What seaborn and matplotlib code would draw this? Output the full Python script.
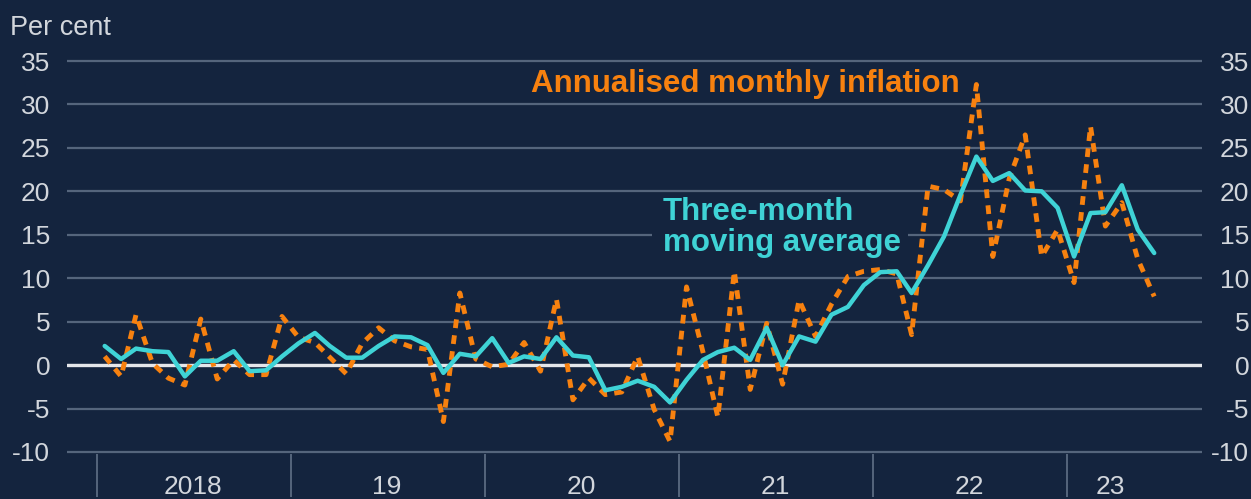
import numpy as np
import pandas as pd
import matplotlib
matplotlib.use("Agg")
import matplotlib.pyplot as plt
import seaborn as sns

# Monthly observations, Jan 2018 - Jun 2023 (per cent)
months = pd.date_range("2018-01-01", periods=66, freq="MS") + pd.Timedelta(days=14)
monthly = [
    1.0, -1.3, 5.8, 0.2, -1.5, -2.3, 5.3, -1.6, 0.6, -1.1, -1.1, 5.6,
    3.2, 2.6, 0.9, -1.0, 2.5, 4.3, 2.8, 2.1, 1.8, -6.5, 8.3, 0.7,
    -0.2, 0.1, 2.6, -0.7, 7.6, -4.0, -1.5, -3.4, -3.1, 1.0, -5.1, -8.8,
    9.0, 1.5, -6.0, 10.8, -2.8, 4.8, -2.2, 7.5, 3.3, 7.0, 10.2, 10.8,
    11.0, 10.5, 3.5, 20.6, 20.2, 18.9, 32.3, 12.5, 21.5, 26.5, 12.5, 15.6,
    9.5, 27.5, 16.0, 18.7, 12.2, 7.9,
]
moving_avg = [
    2.2, 0.7, 1.9, 1.6, 1.5, -1.3, 0.5, 0.5, 1.6, -0.7, -0.6, 1.0,
    2.5, 3.7, 2.2, 0.85, 0.85, 2.2, 3.3, 3.2, 2.3, -0.9, 1.3, 1.0,
    3.1, 0.25, 1.0, 0.7, 3.2, 1.1, 0.9, -2.9, -2.5, -1.8, -2.5, -4.3,
    -1.7, 0.6, 1.5, 2.0, 0.6, 4.3, 0.0, 3.3, 2.7, 5.8, 6.7, 9.2,
    10.7, 10.8, 8.3, 11.5, 14.8, 19.6, 24.0, 21.2, 22.1, 20.1, 20.0, 18.1,
    12.5, 17.5, 17.6, 20.7, 15.6, 12.9,
]
year_labels = ["2018", "19", "20", "21", "22", "23"]
year_label_dates = pd.to_datetime(["2018-07-01", "2019-07-01", "2020-07-01",
                                   "2021-07-01", "2022-07-01", "2023-03-25"])
year_starts = pd.to_datetime([f"{y}-01-01" for y in range(2018, 2024)])

df = pd.DataFrame({"month": months, "monthly": monthly, "avg": moving_avg})

BG = "#14243e"
GRID = "#55657c"
TXT = "#d2d6dc"
ORANGE = "#f7810f"
CYAN = "#3fd3d6"

sns.set_theme(style="dark")
plt.rcParams["font.family"] = ["Liberation Sans", "DejaVu Sans"]
plt.rcParams["axes.unicode_minus"] = False

W, H = 1251, 499
fig = plt.figure(figsize=(W / 100, H / 100), dpi=100, facecolor=BG)
ax = fig.add_axes([67 / W, (H - 453.7) / H, (1202 - 67) / W, (453.7 - 59.3) / H])
ax.set_facecolor(BG)

sns.lineplot(data=df, x="month", y="monthly", ax=ax, color=ORANGE, lw=3.5,
             linestyle=(0, (1.8, 1.5)), zorder=3)
sns.lineplot(data=df, x="month", y="avg", ax=ax, color=CYAN, lw=3.2, zorder=4)
ax.axhline(0, color="#e4e6ea", lw=2.4, zorder=2)

ax.set_ylim(-10.2, 35.2)
ax.set_xlim(pd.Timestamp("2017-11-05"), pd.Timestamp("2023-09-13"))
ax.set_yticks(range(-10, 40, 5))
ax.grid(axis="y", color=GRID, lw=1.6)
ax.grid(axis="x", visible=False)
for s in ax.spines.values():
    s.set_visible(False)
ax.set_xlabel("")
ax.set_ylabel("")

# gap in the 15 gridline behind the moving-average label
ax.axhspan(14.2, 15.8, xmin=(652 - 67) / 1135, xmax=(908 - 67) / 1135,
           color=BG, lw=0, zorder=1.5)

ax.tick_params(axis="y", length=0, pad=12, labelsize=19, labelcolor=TXT)
ax.set_xticks(year_starts)
ax.set_xticklabels([])
ax.set_xticks(year_label_dates, minor=True)
ax.set_xticklabels(year_labels, minor=True)
ax.tick_params(axis="x", which="major", bottom=True, length=31, width=1.4,
               color=GRID, direction="out")
ax.tick_params(axis="x", which="minor", bottom=True, length=0, pad=15,
               labelsize=19, labelcolor=TXT)

ax2 = ax.twinx()
ax2.set_ylim(ax.get_ylim())
ax2.set_yticks(range(-10, 40, 5))
ax2.tick_params(axis="y", length=0, pad=34, labelsize=19, labelcolor=TXT)
for lab in ax2.get_yticklabels():
    lab.set_horizontalalignment("right")
for s in ax2.spines.values():
    s.set_visible(False)
ax2.grid(False)

fig.text(10 / W, 1 - 35 / H, "Per cent", color=TXT, fontsize=19.5, va="baseline")

ax.text(pd.Timestamp("2020-03-28"), 31.4, "Annualised monthly inflation", color=ORANGE,
        fontsize=22.5, fontweight="bold", va="baseline", ha="left", zorder=5)
ax.text(pd.Timestamp("2020-12-01"), 15.8, "Three-month\nmoving average", color=CYAN,
        fontsize=22.5, fontweight="bold", va="center", ha="left", linespacing=1.05, zorder=5)

fig.savefig("out.png", dpi=100, facecolor=BG)
